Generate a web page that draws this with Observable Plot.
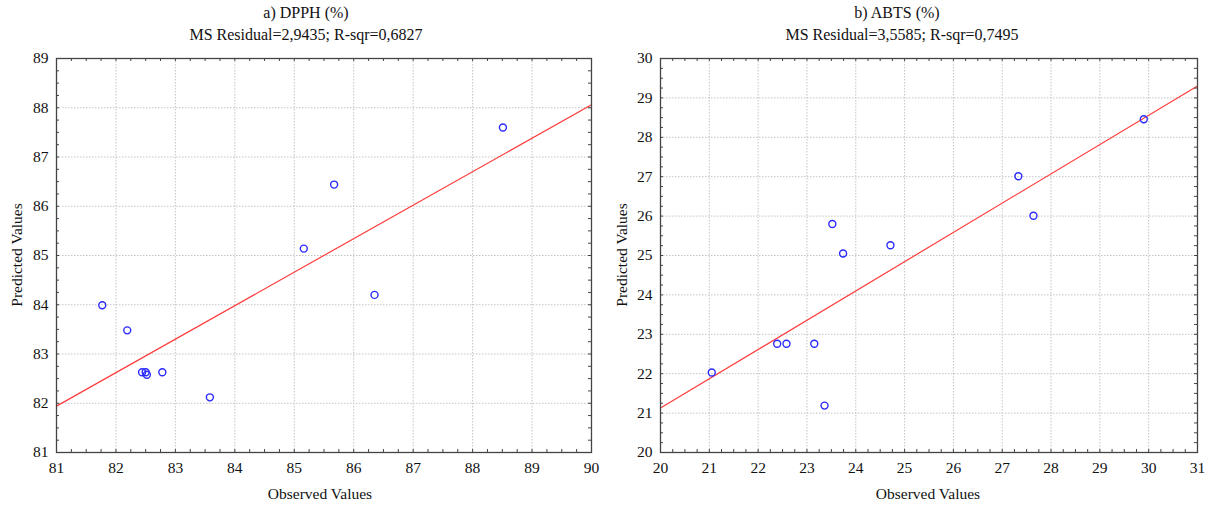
<!DOCTYPE html>
<html><head><meta charset="utf-8">
<script src="https://cdn.jsdelivr.net/npm/d3@7"></script>
<script src="https://cdn.jsdelivr.net/npm/@observablehq/plot@0.6"></script>
<style>
body{margin:0;background:#fff;font-family:"Liberation Serif","Times New Roman",serif;color:#111}
#wrap{position:relative;width:1216px;height:508px;overflow:hidden;background:#fff}
.t{position:absolute;font-size:16px;white-space:nowrap;transform:translateX(-50%);line-height:1}
.xl{position:absolute;font-size:15.5px;white-space:nowrap;transform:translateX(-50%);line-height:1}
.yl{position:absolute;font-size:15.5px;white-space:nowrap;line-height:1;transform:translate(-50%,-50%) rotate(-90deg)}
.p{position:absolute;top:45px}
.p, .p text{font-family:"Liberation Serif","Times New Roman",serif !important}
</style></head><body><div id="wrap"></div>
<script>
// a) DPPH (%)
const dpphObserved  = [81.77, 82.19, 82.44, 82.50, 82.52, 82.78, 83.58, 85.16, 85.67, 86.35, 88.51];
const dpphPredicted = [83.99, 83.48, 82.63, 82.63, 82.58, 82.63, 82.12, 85.14, 86.44, 84.20, 87.60];
const dpphXTicks = [81, 82, 83, 84, 85, 86, 87, 88, 89, 90];
const dpphYTicks = [81, 82, 83, 84, 85, 86, 87, 88, 89];
// b) ABTS (%)
const abtsObserved  = [21.05, 22.39, 22.58, 23.15, 23.36, 23.52, 23.74, 24.71, 27.33, 27.64, 29.90];
const abtsPredicted = [22.03, 22.76, 22.76, 22.76, 21.19, 25.80, 25.05, 25.26, 27.01, 26.01, 28.46];
const abtsXTicks = [20, 21, 22, 23, 24, 25, 26, 27, 28, 29, 30, 31];
const abtsYTicks = [20, 21, 22, 23, 24, 25, 26, 27, 28, 29, 30];

const titles = ["a) DPPH (%)", "b) ABTS (%)"];
const subtitles = ["MS Residual=2,9435; R-sqr=0,6827", "MS Residual=3,5585; R-sqr=0,7495"];
const xLabel = "Observed Values";
const yLabel = "Predicted Values";

const wrap = document.getElementById("wrap");
function addText(cls, txt, left, top){
  const d = document.createElement("div");
  d.className = cls; d.textContent = txt;
  d.style.left = left + "px"; d.style.top = top + "px";
  wrap.appendChild(d);
}

const serif = "Liberation Serif";
function panel(obs, pred, xTicks, yTicks, ml, mr, left){
  const W = 608, H = 463, mt = 13, mb = 56;
  const iw = W - ml - mr, ih = H - mt - mb;
  const data = obs.map((x, i) => ({x, y: pred[i]}));
  const mx = d3.mean(obs), my = d3.mean(pred);
  const b = d3.sum(data, d => (d.x - mx) * (d.y - my)) / d3.sum(data, d => (d.x - mx) ** 2);
  const a = my - b * mx;
  const x0 = xTicks[0], x1 = xTicks[xTicks.length - 1];
  const y0 = yTicks[0], y1 = yTicks[yTicks.length - 1];
  const fit = [x0, x1].map(x => ({x, y: a + b * x}));
  const minorX = d3.range(x0, x1 + 1e-9, 0.25);
  const minorY = d3.range(y0, y1 + 1e-9, 0.25);
  const tk = {stroke: "#444", strokeWidth: 1};
  const svg = Plot.plot({
    width: W, height: H, marginTop: mt, marginBottom: mb, marginLeft: ml, marginRight: mr,
    x: {domain: [x0, x1]}, y: {domain: [y0, y1]},
    style: {fontFamily: serif, fontSize: "15.5px", color: "#111", background: "white", overflow: "visible"},
    marks: [
      Plot.gridX({ticks: xTicks, stroke: "#c4c4c4", strokeOpacity: 1, strokeDasharray: "1.5,1.5"}),
      Plot.gridY({ticks: yTicks, stroke: "#c4c4c4", strokeOpacity: 1, strokeDasharray: "1.5,1.5"}),
      Plot.line(fit, {x: "x", y: "y", stroke: "#ff3b3b", strokeWidth: 1.2}),
      Plot.dot(data, {x: "x", y: "y", r: 3.5, stroke: "#2a2aff", strokeWidth: 1.4, fill: "none"}),
      Plot.tickX(minorX, {x: d => d, insetTop: ih - 3, ...tk}),
      Plot.tickX(minorX, {x: d => d, insetBottom: ih - 3, ...tk}),
      Plot.tickY(minorY, {y: d => d, insetRight: iw - 3, ...tk}),
      Plot.tickY(minorY, {y: d => d, insetLeft: iw - 3, ...tk}),
      Plot.frame({stroke: "#444", strokeWidth: 1.3}),
      Plot.axisX({ticks: xTicks, tickSize: 0, tickPadding: 9, label: null, fontFamily: serif, fontSize: 15.5, fontVariant: "normal", tickFormat: d => String(d)}),
      Plot.axisY({ticks: yTicks, tickSize: 0, tickPadding: 8, label: null, fontFamily: serif, fontSize: 15.5, fontVariant: "normal", tickFormat: d => String(d)})
    ]
  });
  svg.classList.add("p");
  svg.style.left = left + "px";
  wrap.appendChild(svg);
  return {ml, iw};
}

const p1 = panel(dpphObserved, dpphPredicted, dpphXTicks, dpphYTicks, 56, 17, 0);
const p2 = panel(abtsObserved, abtsPredicted, abtsXTicks, abtsYTicks, 52, 19, 608);

addText("t", titles[0], 306, 5);
addText("t", subtitles[0], 306, 27);
addText("t", titles[1], 897, 5);
addText("t", subtitles[1], 902, 27);
addText("xl", xLabel, 320, 486);
addText("xl", xLabel, 928, 486);
addText("yl", yLabel, 17, 255);
addText("yl", yLabel, 622, 255);
</script></body></html>
